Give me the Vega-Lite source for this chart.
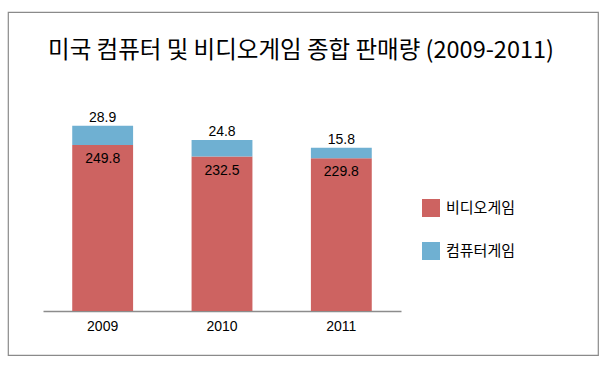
{
  "$schema": "https://vega.github.io/schema/vega-lite/v6.json",
  "width": 590,
  "height": 343,
  "autosize": "none",
  "padding": {"left": 8, "top": 12, "right": 8, "bottom": 12},
  "background": "white",
  "title": {
    "text": "미국 컴퓨터 및 비디오게임 종합 판매량 (2009-2011)",
    "font": "Noto Sans CJK KR",
    "fontSize": 23.5,
    "fontWeight": "normal",
    "color": "#000000",
    "anchor": "middle",
    "frame": "group",
    "baseline": "middle",
    "offset": -62,
    "dx": -2
  },
  "config": {
    "view": {"stroke": "#8a8a8a", "strokeWidth": 1.2},
    "font": "Liberation Sans"
  },
  "data": {
    "values": [
      {"year": "2009", "series": "비디오게임", "value": 249.8},
      {"year": "2009", "series": "컴퓨터게임", "value": 28.9},
      {"year": "2010", "series": "비디오게임", "value": 232.5},
      {"year": "2010", "series": "컴퓨터게임", "value": 24.8},
      {"year": "2011", "series": "비디오게임", "value": 229.8},
      {"year": "2011", "series": "컴퓨터게임", "value": 15.8}
    ]
  },
  "transform": [
    {"stack": "value", "groupby": ["year"], "sort": [{"field": "series", "order": "ascending"}], "as": ["v0", "v1"]}
  ],
  "encoding": {
    "x": {
      "field": "year",
      "type": "nominal",
      "scale": {"range": [35, 393], "paddingInner": 0.49, "paddingOuter": 0.245},
      "axis": {
        "title": null,
        "labelAngle": 0,
        "ticks": false,
        "grid": false,
        "domainColor": "#8c8c8c",
        "domainWidth": 1.6,
        "offset": -44,
        "labelPadding": 8,
        "labelFontSize": 14,
        "labelColor": "#000000",
        "labelFont": "Liberation Sans"
      }
    }
  },
  "layer": [
    {
      "mark": {"type": "bar"},
      "encoding": {
        "y": {"field": "v0", "type": "quantitative", "scale": {"domain": [0, 443], "range": [299, 0]}, "axis": null},
        "y2": {"field": "v1"},
        "color": {
          "field": "series",
          "type": "nominal",
          "scale": {"domain": ["비디오게임", "컴퓨터게임"], "range": ["#CD6361", "#6FB0D2"]},
          "legend": {
            "title": null,
            "orient": "none",
            "legendX": 414,
            "legendY": 187,
            "padding": 0,
            "symbolType": "square",
            "symbolSize": 324,
            "symbolStrokeWidth": 0,
            "labelFont": "Noto Sans CJK KR",
            "labelFontSize": 15,
            "labelColor": "#000000",
            "labelOffset": 6,
            "rowPadding": 25
          }
        }
      }
    },
    {
      "transform": [{"filter": "datum.series === '비디오게임'"}],
      "mark": {"type": "text", "dy": 14, "baseline": "middle", "fontSize": 14, "color": "#000000"},
      "encoding": {
        "y": {"field": "v1", "type": "quantitative"},
        "text": {"field": "value", "type": "quantitative", "format": ".1f"}
      }
    },
    {
      "transform": [{"filter": "datum.series === '컴퓨터게임'"}],
      "mark": {"type": "text", "dy": -8, "baseline": "middle", "fontSize": 14, "color": "#000000"},
      "encoding": {
        "y": {"field": "v1", "type": "quantitative"},
        "text": {"field": "value", "type": "quantitative", "format": ".1f"}
      }
    }
  ]
}
